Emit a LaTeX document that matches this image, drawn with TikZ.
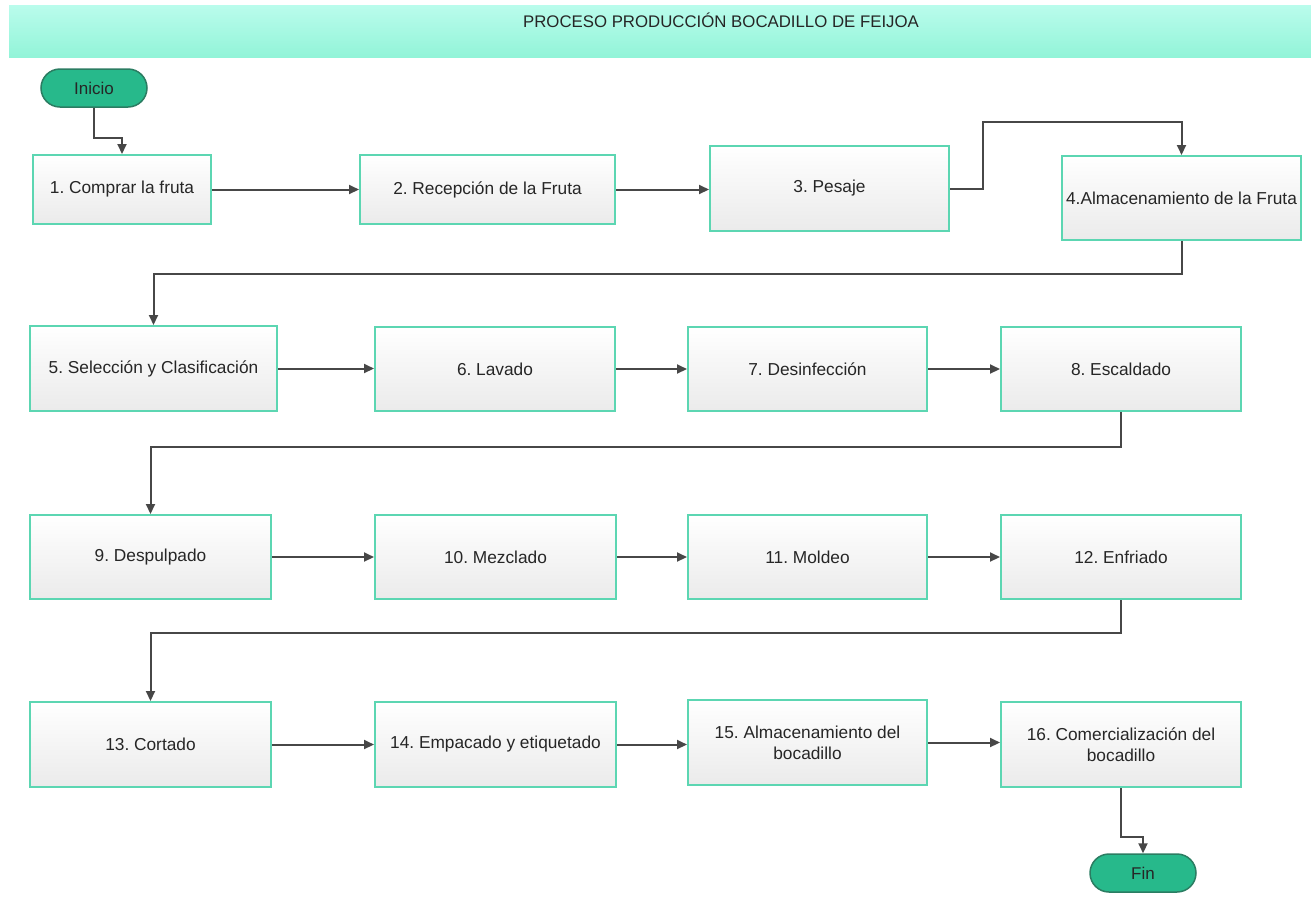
\documentclass[tikz,border=0pt]{standalone}
\usepackage{fontspec}
\setmainfont{Liberation Sans}
\usetikzlibrary{arrows.meta}
\frenchspacing

\definecolor{borde}{HTML}{5CD6B2}
\definecolor{linea}{HTML}{474747}
\definecolor{verde}{HTML}{27B98B}
\definecolor{verdeosc}{HTML}{2B7D62}
\definecolor{textocol}{HTML}{262626}
\definecolor{aguaclaro}{HTML}{BAFCEC}
\definecolor{aguaosc}{HTML}{92F4D8}

\tikzset{
  paso/.style={draw=borde, line width=2pt, top color=white, bottom color=gray!16,
    inner sep=2pt, align=center, text=textocol, font=\fontsize{17.3}{21}\selectfont},
  terminal/.style={draw=verdeosc, line width=1.5pt, fill=verde, rounded corners=19pt,
    minimum width=106pt, minimum height=38pt, text=black!85, font=\fontsize{17}{20}\selectfont},
  flecha/.style={draw=linea, line width=2pt, -{Triangle[length=10pt,width=9pt]}}
}

\begin{document}
\begin{tikzpicture}[x=1pt,y=-1pt]
    \useasboundingbox (0,0) rectangle (1311,914);
    \shade[top color=aguaclaro, bottom color=aguaosc] (9,5) rectangle (1311,57);
    \node[text=textocol, font=\fontsize{16.8}{20}\selectfont] (titulo) at (721,20) {PROCESO PRODUCCIÓN BOCADILLO DE FEIJOA};

    \node[terminal] (ini) at (94,88) {Inicio};
    \node[terminal] (fin) at (1143,873) {Fin};

    % fila 1
    \node[paso, minimum width=178pt, minimum height=69pt] (b1) at (122,189.5) {1. Comprar la fruta};
    \node[paso, minimum width=255pt, minimum height=69pt] (b2) at (487.5,189.5) {2. Recepción de la Fruta};
    \node[paso, minimum width=239pt, minimum height=85pt] (b3) at (829.5,188.5) {3. Pesaje};
    \node[paso, minimum width=239pt, minimum height=84pt] (b4) at (1181.5,198) {4.Almacenamiento de la Fruta};

    % fila 2
    \node[paso, minimum width=247pt, minimum height=85pt] (b5) at (153.5,368.5) {5. Selección y Clasificación};
    \node[paso, minimum width=240pt, minimum height=84pt] (b6) at (495,369) {6. Lavado};
    \node[paso, minimum width=239pt, minimum height=84pt] (b7) at (807.5,369) {7. Desinfección};
    \node[paso, minimum width=240pt, minimum height=84pt] (b8) at (1121,369) {8. Escaldado};

    % fila 3
    \node[paso, minimum width=241pt, minimum height=84pt] (b9) at (150.5,557) {9. Despulpado};
    \node[paso, minimum width=241pt, minimum height=84pt] (b10) at (495.5,557) {10. Mezclado};
    \node[paso, minimum width=239pt, minimum height=84pt] (b11) at (807.5,557) {11. Moldeo};
    \node[paso, minimum width=240pt, minimum height=84pt] (b12) at (1121,557) {12. Enfriado};

    % fila 4
    \node[paso, minimum width=241pt, minimum height=85pt] (b13) at (150.5,744.5) {13. Cortado};
    \node[paso, minimum width=241pt, minimum height=85pt] (b14) at (495.5,744.5) {14. Empacado y etiquetado};
    \node[paso, minimum width=239pt, minimum height=85pt] (b15) at (807.5,742.5) {15. Almacenamiento del\\bocadillo};
    \node[paso, minimum width=240pt, minimum height=85pt] (b16) at (1121,744.5) {16. Comercialización del\\bocadillo};

    % puntos de quiebre
    \coordinate (q0) at (0,138);
    \coordinate (q3) at (983,122);
    \coordinate (q4) at (0,274);
    \coordinate (q8) at (0,447);
    \coordinate (q12) at (0,633);
    \coordinate (q16) at (0,837);

    \draw[flecha] (ini.south) -- (ini.south |- q0) -| (b1.north);
    \draw[flecha] (b1.east) -- (b2.west);
    \draw[flecha] (b2.east) -- (b2.east -| b3.west);
    \draw[flecha] (b3.east) -| (q3) -| (b4.north);
    \draw[flecha] (b4.south) -- (b4.south |- q4) -| (b5.north);

    \draw[flecha] (b5.east) -- (b5.east -| b6.west);
    \draw[flecha] (b6.east) -- (b7.west);
    \draw[flecha] (b7.east) -- (b8.west);
    \draw[flecha] (b8.south) -- (b8.south |- q8) -| (b9.north);

    \draw[flecha] (b9.east) -- (b10.west);
    \draw[flecha] (b10.east) -- (b11.west);
    \draw[flecha] (b11.east) -- (b12.west);
    \draw[flecha] (b12.south) -- (b12.south |- q12) -| (b13.north);

    \draw[flecha] (b13.east) -- (b14.west);
    \draw[flecha] (b14.east) -- (b14.east -| b15.west);
    \draw[flecha] (b15.east) -- (b15.east -| b16.west);
    \draw[flecha] (b16.south) -- (b16.south |- q16) -| (fin.north);
\end{tikzpicture}
\end{document}
